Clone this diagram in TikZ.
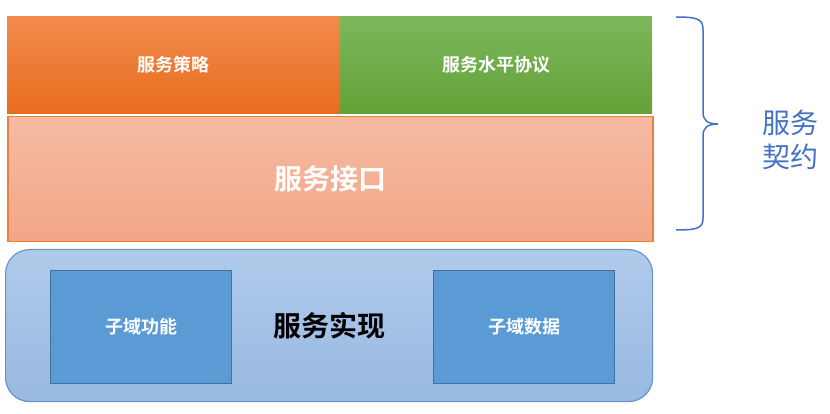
\documentclass[tikz,border=0pt]{standalone}
\usepackage{fontspec}
\newfontfamily\cjk{Noto Sans CJK SC}
\newfontfamily\cjkb{Noto Sans CJK SC Bold}
\begin{document}
\begin{tikzpicture}[x=1pt,y=-1pt,
  topbox/.style={minimum width=#1, minimum height=97pt, inner sep=0pt, anchor=north west, font=\cjkb\fontsize{18}{22}\selectfont, text=white},
  subbox/.style={line width=1.2pt, fill={rgb,255:red,91;green,155;blue,213}, minimum width=181pt, minimum height=113pt, inner sep=0pt, anchor=north west, font=\cjkb\fontsize{18}{22}\selectfont, text=white}]
\useasboundingbox (0,0) rectangle (830,414);
\fill[white] (0,0) rectangle (830,414);
\definecolor{ortop}{RGB}{241,139,76}
\definecolor{orbot}{RGB}{232,108,30}
\definecolor{grtop}{RGB}{124,183,92}
\definecolor{grbot}{RGB}{100,162,56}
\definecolor{pktop}{RGB}{246,187,164}
\definecolor{pkbot}{RGB}{242,166,134}
\definecolor{pkline}{RGB}{234,128,60}
\definecolor{bltop}{RGB}{176,202,234}
\definecolor{blbot}{RGB}{152,185,226}
\definecolor{blline}{RGB}{106,149,203}
\definecolor{subline}{RGB}{65,113,156}
\definecolor{brace}{RGB}{68,114,196}
% top row
\node[topbox=333pt, top color=ortop, bottom color=orbot] (policy) at (7,16) {服务策略};
\node[topbox=312pt, top color=grtop, bottom color=grbot] (sla) at (340,16) {服务水平协议};
% interface
\node[draw=pkline, line width=1.5pt, top color=pktop, bottom color=pkbot, minimum width=645pt, minimum height=125pt, inner sep=0pt, anchor=north west, font=\cjkb\fontsize{28}{32}\selectfont, text=white] (iface) at (7,116) {服务接口};
% implementation
\node[draw=blline, line width=1.2pt, rounded corners=24pt, top color=bltop, bottom color=blbot, minimum width=647pt, minimum height=152pt, inner sep=0pt, anchor=north west, font=\cjkb\fontsize{28}{32}\selectfont, text=black] (impl) at (5,249) {服务实现};
\node[subbox, draw=subline] (func) at (50,270) {子域功能};
\node[subbox, draw=subline] (data) at (433,270) {子域数据};
% brace
\draw[brace, line width=1.5pt] (676,17) .. controls (698,17) and (703,19) .. (703,30) -- (703,112) .. controls (703,120) and (707,124) .. (718,124) .. controls (707,124) and (703,128) .. (703,136) -- (703,218) .. controls (703,228) and (698,230) .. (676,230);
\coordinate (tip) at (718,124);
\node[text=brace, font=\cjk\fontsize{28}{34}\selectfont, align=left, anchor=center] (contract) at (790,140) {服务\\契约};
\end{tikzpicture}
\end{document}
